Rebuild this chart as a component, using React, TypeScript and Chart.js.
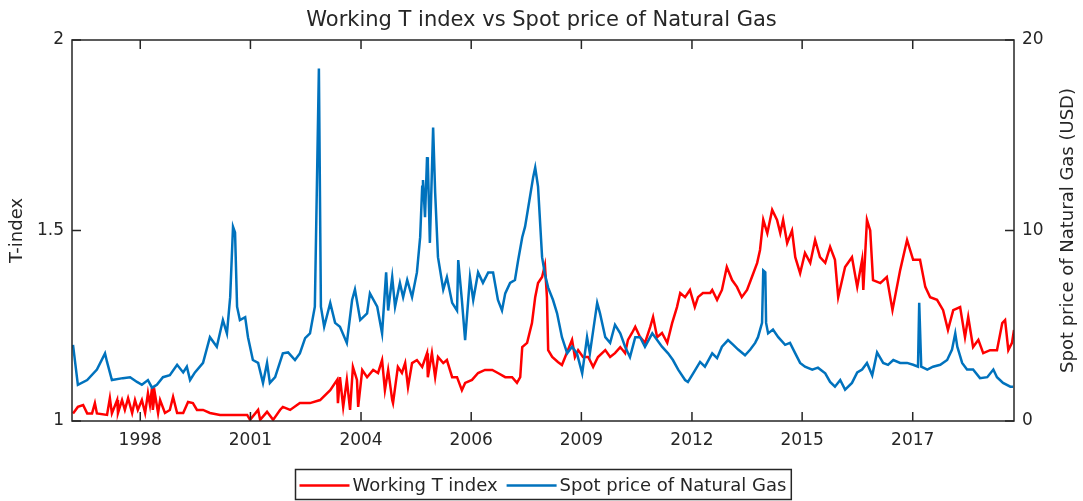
import React, { useEffect, useRef } from 'react';
import { Chart, registerables } from 'chart.js';

Chart.register(...registerables);

const TITLE = 'Working T index vs Spot price of Natural Gas';
const LEFT_TITLE = 'T-index';
const RIGHT_TITLE = 'Spot price of Natural Gas (USD)';
const SERIES_T_LABEL = 'Working T index';
const SERIES_GAS_LABEL = 'Spot price of Natural Gas';

const X_MIN = 1997.025;
const X_MAX = 2020.28;
const X_TICK_POS = [1998.71, 2001.43, 2004.16, 2006.88, 2009.6, 2012.33, 2015.05, 2017.78];
const X_TICK_LABELS = ['1998', '2001', '2004', '2006', '2009', '2012', '2015', '2017'];

const GAS_YEARS = [
  1997.05, 1997.17, 1997.4, 1997.64, 1997.84, 1997.89, 1998.01, 1998.28, 1998.46, 1998.63,
  1998.75, 1998.9, 1999.0, 1999.12, 1999.27, 1999.44, 1999.62, 1999.77, 1999.86, 1999.94,
  2000.06, 2000.26, 2000.43, 2000.6, 2000.75, 2000.85, 2000.93, 2001.0, 2001.05, 2001.1,
  2001.17, 2001.3, 2001.37, 2001.49, 2001.62, 2001.74, 2001.84, 2001.91, 2002.04, 2002.23,
  2002.36, 2002.53, 2002.65, 2002.78, 2002.9, 2003.02, 2003.12, 2003.17, 2003.25, 2003.4,
  2003.52, 2003.64, 2003.81, 2003.94, 2004.01, 2004.14, 2004.31, 2004.38, 2004.56, 2004.68,
  2004.78, 2004.83, 2004.93, 2005.0, 2005.12, 2005.2, 2005.3, 2005.42, 2005.54, 2005.62,
  2005.67, 2005.69, 2005.74, 2005.79, 2005.81, 2005.86, 2005.94, 2005.99, 2006.06, 2006.19,
  2006.28, 2006.41, 2006.53, 2006.56, 2006.65, 2006.73, 2006.85, 2006.93, 2007.05, 2007.17,
  2007.3, 2007.42, 2007.54, 2007.64, 2007.72, 2007.84, 2007.96, 2008.04, 2008.14, 2008.21,
  2008.28, 2008.41, 2008.46, 2008.53, 2008.63, 2008.7, 2008.78, 2008.9, 2009.0, 2009.12,
  2009.25, 2009.37, 2009.49, 2009.62, 2009.74, 2009.81, 2009.99, 2010.06, 2010.19, 2010.31,
  2010.43, 2010.56, 2010.68, 2010.8, 2010.93, 2011.05, 2011.17, 2011.35, 2011.47, 2011.59,
  2011.74, 2011.86, 2011.99, 2012.16, 2012.23, 2012.36, 2012.53, 2012.65, 2012.83, 2012.95,
  2013.07, 2013.22, 2013.35, 2013.47, 2013.64, 2013.77, 2013.89, 2013.96, 2014.06, 2014.09,
  2014.14, 2014.16, 2014.21, 2014.33, 2014.46, 2014.63, 2014.75, 2014.88, 2015.0, 2015.12,
  2015.3, 2015.44, 2015.62, 2015.74, 2015.86, 2015.99, 2016.11, 2016.28, 2016.41, 2016.53,
  2016.65, 2016.78, 2016.9, 2017.05, 2017.17, 2017.3, 2017.47, 2017.64, 2017.79, 2017.91,
  2017.94, 2017.99, 2018.14, 2018.28, 2018.46, 2018.63, 2018.75, 2018.83, 2018.88, 2018.93,
  2019.0, 2019.12, 2019.27, 2019.44, 2019.62, 2019.77, 2019.86, 2020.01, 2020.19, 2020.26,
];

const GAS_PRICE = [
  4.0, 1.9, 2.15, 2.7, 3.55, 3.1, 2.15, 2.25, 2.3, 2.05,
  1.9, 2.15, 1.75, 1.9, 2.3, 2.4, 2.95, 2.55, 2.85, 2.15,
  2.55, 3.05, 4.4, 3.9, 5.3, 4.6, 6.5, 10.2, 9.9, 6.0,
  5.3, 5.45, 4.4, 3.2, 3.05, 2.0, 3.05, 2.0, 2.3, 3.55,
  3.6, 3.2, 3.55, 4.35, 4.6, 6.0, 18.5, 6.0, 4.95, 6.2,
  5.15, 4.95, 4.1, 6.35, 6.9, 5.3, 5.65, 6.7, 6.0, 4.6,
  7.8, 5.8, 7.55, 6.0, 7.25, 6.5, 7.4, 6.5, 7.8, 9.65,
  12.3, 12.65, 10.7, 13.85, 13.55, 9.35, 15.4, 12.0, 8.6, 6.9,
  7.55, 6.2, 5.8, 8.45, 6.35, 4.25, 7.55, 6.35, 7.8, 7.25,
  7.8, 7.8, 6.35, 5.8, 6.7, 7.25, 7.4, 8.45, 9.65, 10.2,
  11.1, 12.8, 13.3, 12.3, 8.6, 7.7, 7.0, 6.35, 5.65, 4.4,
  3.55, 3.9, 3.55, 2.5, 4.4, 3.55, 6.2, 5.65, 4.4, 4.1,
  5.05, 4.6, 3.9, 3.35, 4.4, 4.4, 3.9, 4.6, 4.25, 3.9,
  3.55, 3.2, 2.7, 2.15, 2.05, 2.5, 3.1, 2.85, 3.55, 3.3,
  3.9, 4.25, 4.0, 3.75, 3.45, 3.75, 4.1, 4.4, 5.15, 7.9,
  7.8, 5.15, 4.6, 4.8, 4.4, 4.0, 4.1, 3.55, 3.05, 2.85,
  2.7, 2.8, 2.5, 2.05, 1.8, 2.15, 1.65, 2.0, 2.55, 2.7,
  3.05, 2.4, 3.6, 3.05, 2.95, 3.2, 3.05, 3.05, 2.95, 2.85,
  6.2, 2.85, 2.7, 2.85, 2.95, 3.2, 3.75, 4.6, 3.9, 3.55,
  3.05, 2.7, 2.7, 2.25, 2.3, 2.7, 2.3, 2.0, 1.8, 1.8,
];

const T_YEARS = [
  1997.05, 1997.17, 1997.3, 1997.4, 1997.52, 1997.59, 1997.64, 1997.89, 1997.96, 1998.01,
  1998.14, 1998.16, 1998.26, 1998.33, 1998.41, 1998.51, 1998.58, 1998.65, 1998.75, 1998.83,
  1998.9, 1998.95, 1999.0, 1999.02, 1999.07, 1999.15, 1999.2, 1999.32, 1999.44, 1999.52,
  1999.62, 1999.77, 1999.89, 2000.01, 2000.11, 2000.26, 2000.43, 2000.68, 2000.93, 2001.35,
  2001.42, 2001.62, 2001.67, 2001.84, 2001.99, 2002.16, 2002.23, 2002.41, 2002.65, 2002.9,
  2003.15, 2003.4, 2003.57, 2003.59, 2003.64, 2003.72, 2003.81, 2003.89, 2003.96, 2004.06,
  2004.09, 2004.19, 2004.31, 2004.46, 2004.58, 2004.68, 2004.75, 2004.83, 2004.93, 2004.95,
  2005.07, 2005.17, 2005.25, 2005.32, 2005.42, 2005.54, 2005.67, 2005.79, 2005.81, 2005.91,
  2005.99, 2006.06, 2006.19, 2006.28, 2006.41, 2006.53, 2006.65, 2006.73, 2006.9, 2007.05,
  2007.22, 2007.4, 2007.54, 2007.72, 2007.89, 2008.01, 2008.09, 2008.14, 2008.26, 2008.38,
  2008.46, 2008.53, 2008.63, 2008.7, 2008.75, 2008.78, 2008.88, 2009.02, 2009.12, 2009.2,
  2009.37, 2009.44, 2009.52, 2009.64, 2009.77, 2009.89, 2010.01, 2010.19, 2010.31, 2010.43,
  2010.56, 2010.68, 2010.75, 2010.85, 2010.93, 2011.05, 2011.17, 2011.3, 2011.37, 2011.47,
  2011.59, 2011.72, 2011.84, 2011.96, 2012.04, 2012.16, 2012.28, 2012.4, 2012.48, 2012.6,
  2012.78, 2012.83, 2012.95, 2013.07, 2013.19, 2013.32, 2013.44, 2013.56, 2013.69, 2013.81,
  2013.94, 2014.01, 2014.09, 2014.19, 2014.31, 2014.43, 2014.51, 2014.58, 2014.68, 2014.8,
  2014.88, 2015.0, 2015.12, 2015.25, 2015.37, 2015.49, 2015.62, 2015.74, 2015.86, 2015.94,
  2016.11, 2016.28, 2016.41, 2016.53, 2016.56, 2016.65, 2016.73, 2016.8, 2016.98, 2017.14,
  2017.28, 2017.47, 2017.64, 2017.79, 2017.96, 2018.09, 2018.21, 2018.38, 2018.53, 2018.65,
  2018.78, 2018.95, 2019.07, 2019.15, 2019.27, 2019.4, 2019.52, 2019.69, 2019.86, 2019.99,
  2020.06, 2020.14, 2020.23, 2020.28,
];

const T_VALUES = [
  1.02, 1.037, 1.042, 1.02, 1.02, 1.047, 1.02, 1.016, 1.06, 1.02,
  1.055, 1.021, 1.055, 1.029, 1.06, 1.021, 1.055, 1.029, 1.055, 1.021,
  1.073, 1.042, 1.087, 1.029, 1.073, 1.021, 1.055, 1.021, 1.029, 1.063,
  1.021, 1.021, 1.05, 1.047, 1.029, 1.029, 1.021, 1.016, 1.016, 1.016,
  1.003, 1.029, 1.003, 1.024, 1.003, 1.029, 1.037, 1.029, 1.047, 1.047,
  1.055, 1.081, 1.108, 1.047, 1.115, 1.037, 1.108, 1.029, 1.142, 1.108,
  1.037, 1.134, 1.115, 1.134, 1.126, 1.16, 1.081, 1.134, 1.055, 1.047,
  1.142, 1.126, 1.152, 1.089, 1.152, 1.16, 1.142, 1.178, 1.115, 1.178,
  1.115, 1.168, 1.152, 1.16, 1.115, 1.115, 1.081, 1.1, 1.108, 1.126,
  1.134, 1.134, 1.126, 1.115, 1.115, 1.1, 1.115, 1.194, 1.205, 1.257,
  1.325, 1.362, 1.378, 1.409, 1.325, 1.186, 1.168, 1.155, 1.147, 1.168,
  1.213, 1.168, 1.186, 1.168, 1.168, 1.142, 1.168, 1.186, 1.168, 1.178,
  1.194, 1.178, 1.213, 1.231, 1.247, 1.22, 1.205, 1.247, 1.273, 1.22,
  1.231, 1.205, 1.257, 1.299, 1.336, 1.325, 1.344, 1.299, 1.325, 1.336,
  1.336, 1.344, 1.318, 1.344, 1.404, 1.37, 1.352, 1.325, 1.344, 1.378,
  1.415, 1.449, 1.528, 1.493, 1.554, 1.528, 1.493, 1.528, 1.467, 1.5,
  1.43, 1.388, 1.441, 1.415, 1.475, 1.43, 1.415, 1.457, 1.423, 1.325,
  1.404, 1.43, 1.352, 1.423, 1.344, 1.528, 1.5, 1.37, 1.362, 1.378,
  1.291, 1.396, 1.475, 1.423, 1.423, 1.352, 1.325, 1.318, 1.291, 1.239,
  1.291, 1.299, 1.22, 1.273, 1.194, 1.213, 1.178, 1.186, 1.186, 1.257,
  1.265, 1.186, 1.205, 1.239,
];

const FONT = '"DejaVu Sans", "Liberation Sans", Arial, sans-serif';
const TEXT_COLOR = '#262626';
const AXIS_COLOR = '#262626';
const RED = '#FF0000';
const BLUE = '#0072BD';

const framePlugin = {
  id: 'matlabFrame',
  afterDraw(chart: any) {
    const { ctx, chartArea: a, scales } = chart;
    const TL = 9;
    ctx.save();
    ctx.strokeStyle = AXIS_COLOR;
    ctx.lineWidth = 1.5;
    ctx.strokeRect(a.left, a.top, a.right - a.left, a.bottom - a.top);
    ctx.beginPath();
    scales.x.ticks.forEach((t: any) => {
      const p = scales.x.getPixelForValue(t.value);
      ctx.moveTo(p, a.bottom);
      ctx.lineTo(p, a.bottom - TL);
      ctx.moveTo(p, a.top);
      ctx.lineTo(p, a.top + TL);
    });
    scales.yT.ticks.forEach((t: any) => {
      const p = scales.yT.getPixelForValue(t.value);
      ctx.moveTo(a.left, p);
      ctx.lineTo(a.left + TL, p);
    });
    scales.yGas.ticks.forEach((t: any) => {
      const p = scales.yGas.getPixelForValue(t.value);
      ctx.moveTo(a.right, p);
      ctx.lineTo(a.right - TL, p);
    });
    ctx.stroke();

    // right axis title (reads bottom-to-top)
    ctx.fillStyle = TEXT_COLOR;
    ctx.font = `18px ${FONT}`;
    ctx.translate(scales.yGas.right - 15, (a.top + a.bottom) / 2);
    ctx.rotate(-Math.PI / 2);
    ctx.textAlign = 'center';
    ctx.textBaseline = 'middle';
    ctx.fillText(RIGHT_TITLE, 0, 0);
    ctx.restore();

    // legend box
    const ds = chart.data.datasets;
    ctx.save();
    ctx.font = `18px ${FONT}`;
    const LINE = 50, GAP = 3, ITEM_GAP = 9, PAD_L = 4, PAD_R = 5;
    const widths = ds.map((d: any) => ctx.measureText(d.label).width);
    let total = PAD_L + PAD_R + ITEM_GAP * (ds.length - 1);
    widths.forEach((w: number) => { total += LINE + GAP + w; });
    const left = Math.round((a.left + a.right) / 2 - total / 2) + 0.5;
    const top = a.bottom + 48.5;
    const h = 30;
    ctx.fillStyle = '#ffffff';
    ctx.fillRect(left, top, total, h);
    ctx.strokeStyle = AXIS_COLOR;
    ctx.lineWidth = 1.5;
    ctx.strokeRect(left, top, total, h);
    let x = left + PAD_L;
    const cy = top + 17;
    ds.forEach((d: any, i: number) => {
      ctx.strokeStyle = d.borderColor;
      ctx.lineWidth = d.borderWidth;
      ctx.beginPath();
      ctx.moveTo(x, cy - 1);
      ctx.lineTo(x + LINE, cy - 1);
      ctx.stroke();
      x += LINE + GAP;
      ctx.fillStyle = TEXT_COLOR;
      ctx.textAlign = 'left';
      ctx.textBaseline = 'middle';
      ctx.fillText(d.label, x, cy);
      x += widths[i] + ITEM_GAP;
    });
    ctx.restore();
  },
};

export default function App() {
  const ref = useRef<HTMLCanvasElement>(null);
  useEffect(() => {
    document.body.style.margin = '0';
    const canvas = ref.current;
    if (!canvas) return;
    const tData = T_YEARS.map((x, i) => ({ x, y: T_VALUES[i] }));
    const gData = GAS_YEARS.map((x, i) => ({ x, y: GAS_PRICE[i] }));
    const chart = new Chart(canvas, {
      type: 'line',
      data: {
        datasets: [
          {
            label: SERIES_T_LABEL,
            data: tData,
            borderColor: RED,
            backgroundColor: RED,
            borderWidth: 2.5,
            pointRadius: 0,
            tension: 0,
            yAxisID: 'yT',
            xAxisID: 'x',
            order: 1,
          },
          {
            label: SERIES_GAS_LABEL,
            data: gData,
            borderColor: BLUE,
            backgroundColor: BLUE,
            borderWidth: 2.5,
            pointRadius: 0,
            tension: 0,
            yAxisID: 'yGas',
            xAxisID: 'x',
            order: 0,
          },
        ],
      },
      options: {
        responsive: false,
        animation: false,
        events: [],
        layout: { padding: 0 },
        plugins: {
          legend: { display: false },
          tooltip: { enabled: false },
          title: {
            display: true,
            text: TITLE,
            color: TEXT_COLOR,
            font: { family: FONT, size: 21, weight: 'normal', lineHeight: 1.2 },
            padding: { top: 8, bottom: 6.8 },
          },
        },
        scales: {
          x: {
            type: 'linear',
            position: 'bottom',
            min: X_MIN,
            max: X_MAX,
            bounds: 'data',
            grid: { display: false, drawTicks: false },
            border: { display: false },
            afterBuildTicks: (s: any) => {
              s.ticks = X_TICK_POS.map((v) => ({ value: v }));
            },
            afterFit: (s: any) => { s.height = 80; },
            ticks: {
              autoSkip: false,
              maxRotation: 0,
              padding: 9,
              color: TEXT_COLOR,
              font: { family: FONT, size: 17 },
              callback: (_v: any, i: number) => X_TICK_LABELS[i],
            },
          },
          yT: {
            type: 'linear',
            position: 'left',
            min: 1,
            max: 2,
            grid: { display: false, drawTicks: false },
            border: { display: false },
            afterFit: (s: any) => { s.width = 72; },
            title: {
              display: true,
              text: LEFT_TITLE,
              color: TEXT_COLOR,
              font: { family: FONT, size: 18 },
              padding: { top: 7, bottom: 0 },
            },
            ticks: {
              stepSize: 0.5,
              padding: 8,
              color: TEXT_COLOR,
              font: { family: FONT, size: 17 },
              callback: (v: any) => `${v}`,
            },
          },
          yGas: {
            type: 'linear',
            position: 'right',
            min: 0,
            max: 20,
            grid: { display: false, drawTicks: false },
            border: { display: false },
            afterFit: (s: any) => { s.width = 69; },
            ticks: {
              stepSize: 10,
              padding: 8,
              color: TEXT_COLOR,
              font: { family: FONT, size: 17 },
              callback: (v: any) => `${v}`,
            },
          },
        },
      },
      plugins: [framePlugin],
    } as any);
    return () => chart.destroy();
  }, []);
  return (
    <div style={{ width: 1083, height: 501 }}>
      <canvas ref={ref} width={1083} height={501} style={{ display: 'block' }} />
    </div>
  );
}
